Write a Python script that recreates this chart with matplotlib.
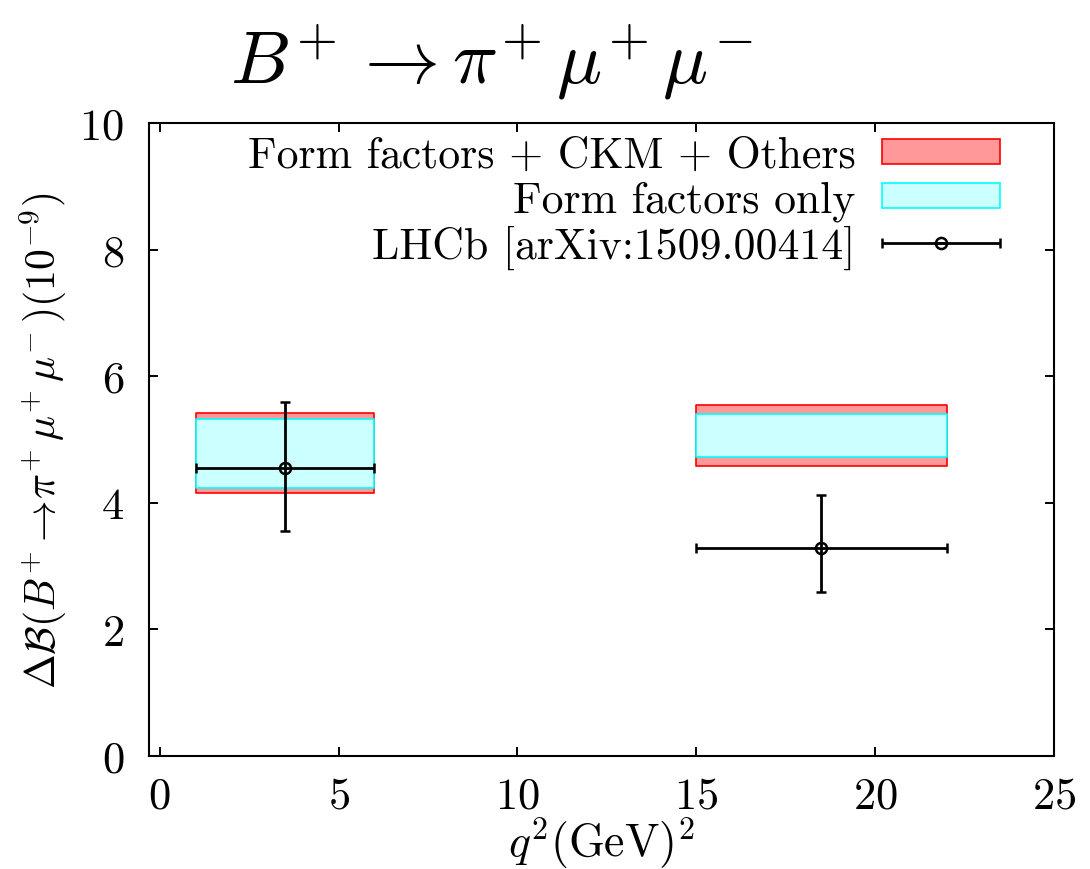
import numpy as np
import matplotlib
matplotlib.use("Agg")
import matplotlib.pyplot as plt
from matplotlib.patches import Patch
from matplotlib.legend_handler import HandlerErrorbar


# 1) Data (branching fraction in units of 1e-9, q^2 in GeV^2)

bin_lo = [1.0, 15.0]
bin_hi = [6.0, 22.0]

# Form factors + CKM + Others
full_lo = [4.15, 4.58]
full_hi = [5.42, 5.54]

# Form factors only
ff_lo = [4.24, 4.72]
ff_hi = [5.33, 5.40]

# LHCb [arXiv:1509.00414]
lhcb_q2 = [3.5, 18.5]
lhcb_val = [4.55, 3.29]
lhcb_up = [1.05, 0.84]
lhcb_dn = [1.00, 0.70]

x_ticks = [0, 5, 10, 15, 20, 25]
y_ticks = [0, 2, 4, 6, 8, 10]


# 2) Style

plt.rcParams["font.family"] = "cmr10"
plt.rcParams["mathtext.fontset"] = "cm"
plt.rcParams["axes.formatter.use_mathtext"] = True
plt.rcParams["axes.unicode_minus"] = True

RED_FILL = "#ff9999"
RED_EDGE = "#ff0000"
CYAN_FILL = "#ccffff"
CYAN_EDGE = "#00ffff"


# 3) Plot

fig = plt.figure(figsize=(10.9, 8.7), dpi=100)
ax = fig.add_axes([149 / 1090, 1 - 757 / 870, 905 / 1090, 633 / 870])

for lo, hi, ylo, yhi in zip(bin_lo, bin_hi, full_lo, full_hi):
    ax.fill_between([lo, hi], ylo, yhi, facecolor=RED_FILL,
                    edgecolor=RED_EDGE, linewidth=1.2, zorder=1)

for lo, hi, ylo, yhi in zip(bin_lo, bin_hi, ff_lo, ff_hi):
    ax.fill_between([lo, hi], ylo, yhi, facecolor=CYAN_FILL,
                    edgecolor=CYAN_EDGE, linewidth=1.2, zorder=2)

q2 = np.array(lhcb_q2)
xerr = [q2 - np.array(bin_lo), np.array(bin_hi) - q2]
yerr = [lhcb_dn, lhcb_up]
eb = ax.errorbar(lhcb_q2, lhcb_val, xerr=xerr, yerr=yerr, fmt="o",
                 color="black", mfc="none", mec="black", mew=1.8,
                 markersize=8, elinewidth=2.0, capsize=3.5, capthick=2.0,
                 zorder=3)

ax.set_xlim(-0.3, 25)
ax.set_ylim(0, 10)
ax.set_xticks(x_ticks)
ax.set_yticks(y_ticks)

ax.tick_params(axis="both", which="major", direction="in", length=6.5,
               width=1.4, top=True, right=True, labelsize=32)
ax.tick_params(axis="x", pad=15)
ax.tick_params(axis="y", pad=18)
for sp in ax.spines.values():
    sp.set_linewidth(1.5)

ax.set_xlabel(r"$q^2(\mathrm{GeV})^2$", fontsize=33)
ax.xaxis.set_label_coords(0.5, -0.092)
ax.set_ylabel(r"$\Delta\mathcal{B}(B^{\!+}\!\to\!\pi^{\!+}\mu^{\!+}\mu^{\!-})(10^{-9})$",
              fontsize=30)
ax.yaxis.set_label_coords(-0.088, 0.5)

fig.text(491 / 1090, 1 - 83 / 870,
         r"$B^{\!+}\to\pi^{\!+}\mu^{\!+}\mu^{\!-}$",
         fontsize=54, ha="center", va="baseline")

# Legend
handles = [
    Patch(facecolor=RED_FILL, edgecolor=RED_EDGE, linewidth=1.2),
    Patch(facecolor=CYAN_FILL, edgecolor=CYAN_EDGE, linewidth=1.2),
    eb,
]
labels = ["Form factors + CKM + Others", "Form factors only",
          "LHCb [arXiv:1509.00414]"]
ax.legend(handles, labels, loc="upper right",
          bbox_to_anchor=((1000 - 149) / 905, 1 - (137 - 124) / 633),
          frameon=False, fontsize=31.5, markerfirst=False,
          handlelength=2.7, handleheight=0.52, handletextpad=0.6,
          labelspacing=0.09, borderpad=0, borderaxespad=0,
          handler_map={type(eb): HandlerErrorbar(xerr_size=1.35,
                                                 yerr_size=0.0)})

fig.savefig("out.png", dpi=100)
